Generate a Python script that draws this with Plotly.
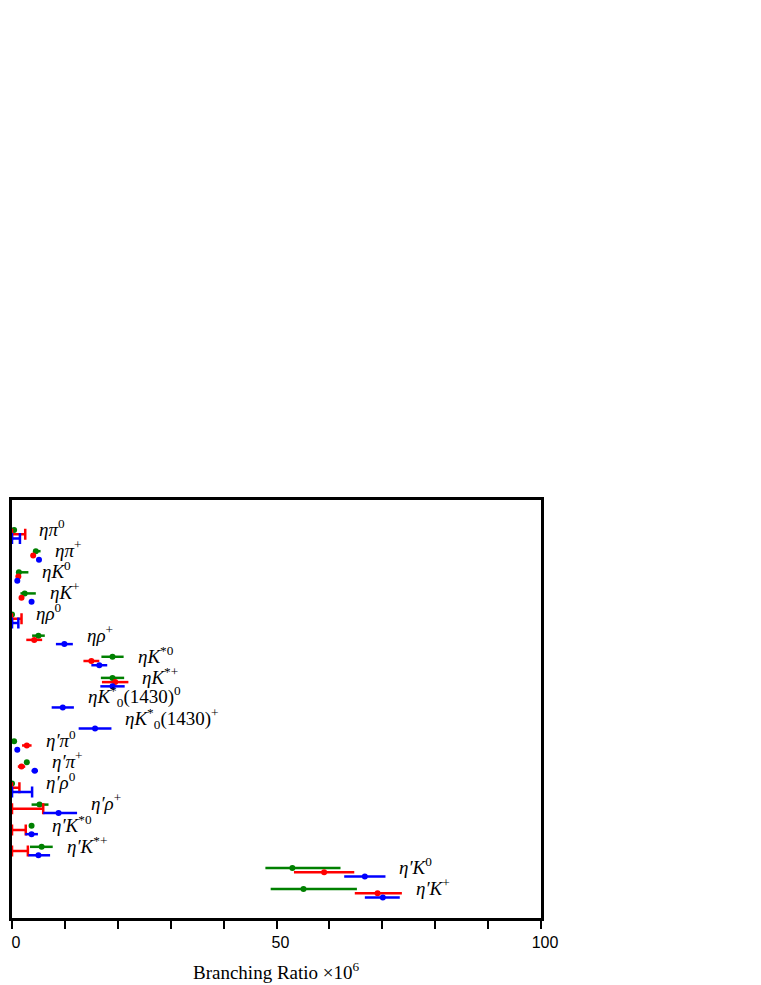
import plotly.graph_objects as go

# Decay channels (rows, top to bottom)
channels = ["eta pi0", "eta pi+", "eta K0", "eta K+", "eta rho0", "eta rho+",
            "eta K*0", "eta K*+", "eta K0*(1430)0", "eta K0*(1430)+",
            "eta' pi0", "eta' pi+", "eta' rho0", "eta' rho+", "eta' K*0",
            "eta' K*+", "eta' K0", "eta' K+"]
labels = ["<i>ηπ</i><sup>0</sup>", "<i>ηπ</i><sup>+</sup>", "<i>ηK</i><sup>0</sup>",
          "<i>ηK</i><sup>+</sup>", "<i>ηρ</i><sup>0</sup>", "<i>ηρ</i><sup>+</sup>",
          "<i>ηK</i><sup>*0</sup>", "<i>ηK</i><sup>*+</sup>",
          "<i>ηK</i><sup>*</sup><sub>0</sub>(1430)<sup>0</sup>",
          "<i>ηK</i><sup>*</sup><sub>0</sub>(1430)<sup>+</sup>",
          "<i>η′π</i><sup>0</sup>", "<i>η′π</i><sup>+</sup>", "<i>η′ρ</i><sup>0</sup>",
          "<i>η′ρ</i><sup>+</sup>", "<i>η′K</i><sup>*0</sup>", "<i>η′K</i><sup>*+</sup>",
          "<i>η′K</i><sup>0</sup>", "<i>η′K</i><sup>+</sup>"]
x_title = "Branching Ratio ×10<sup>6</sup>"
N = None

# Green series: central value, minus error, plus error; upper limits
green_val = [0.4, 4.5, 1.3, 2.4, 0.0, 5.0, 19.0, 19.0, N, N, 0.4, 2.8, 0.0, 5.2, 3.7, 5.6, 53.0, 55.1]
green_lo  = [0.1, 0.4, 0.4, 0.8, 0.0, 1.2, 2.1, 2.2, N, N, 0.1, 0.3, 0.0, 1.5, 0.2, 2.2, 5.1, 6.2]
green_hi  = [0.1, 0.9, 1.8, 2.1, 0.0, 1.2, 2.1, 2.2, N, N, 0.1, 0.3, 0.0, 1.7, 0.2, 2.1, 9.1, 10.1]
green_lim = [N] * 18

# Red series
red_val = [N, 4.0, 1.2, 1.8, N, 4.2, 15.0, 19.5, N, N, 2.8, 1.8, N, N, N, N, 59.0, 69.1]
red_lo  = [N, 0.3, 0.3, 0.3, N, 1.5, 1.5, 2.5, N, N, 0.9, 0.7, N, N, N, N, 5.7, 4.3]
red_hi  = [N, 0.3, 0.3, 0.3, N, 1.5, 1.5, 2.5, N, N, 0.9, 0.7, N, N, N, N, 5.7, 4.6]
red_lim = [2.5, N, N, N, 1.8, N, N, N, N, N, N, N, 1.4, 5.9, 2.6, 3.0, N, N]

# Blue series
blue_val = [N, 5.1, 1.0, 3.7, N, 9.9, 16.5, 19.0, 9.6, 15.7, 1.0, 4.3, N, 8.8, 3.7, 5.0, 66.7, 70.1]
blue_lo  = [N, 0.4, 0.2, 0.3, N, 1.6, 1.5, 2.3, 2.1, 3.1, 0.2, 0.6, N, 2.9, 1.2, 1.9, 3.9, 3.4]
blue_hi  = [N, 0.4, 0.2, 0.3, N, 1.6, 1.5, 2.3, 2.1, 3.1, 0.2, 0.6, N, 3.5, 1.2, 2.2, 3.9, 3.2]
blue_lim = [1.5, N, N, N, 1.2, N, N, N, N, N, N, N, 3.8, N, N, N, N, N]

tick_vals = [0, 10, 20, 30, 40, 50, 60, 70, 80, 90, 100]
tick_text = ["0", "", "", "", "", "50", "", "", "", "", "100"]

rows = list(range(1, len(channels) + 1))
series = [
    ("#008000", -0.2, green_val, green_lo, green_hi, green_lim),
    ("#ff0000", 0.0, red_val, red_lo, red_hi, red_lim),
    ("#0000ff", 0.2, blue_val, blue_lo, blue_hi, blue_lim),
]

fig = go.Figure()
for color, off, val, lo, hi, lim in series:
    idx = [i for i in range(len(rows)) if val[i] is not None]
    if idx:
        fig.add_trace(go.Scatter(
            x=[val[i] for i in idx], y=[rows[i] + off for i in idx],
            mode="markers", marker=dict(color=color, size=6),
            error_x=dict(type="data", symmetric=False,
                         array=[hi[i] for i in idx], arrayminus=[lo[i] for i in idx],
                         color=color, thickness=2.5, width=0),
            cliponaxis=False, showlegend=False, hoverinfo="skip"))
    lidx = [i for i in range(len(rows)) if lim[i] is not None]
    if lidx:
        fig.add_trace(go.Scatter(
            x=[lim[i] for i in lidx], y=[rows[i] + off for i in lidx],
            mode="markers", marker=dict(color=color, size=1, opacity=0),
            error_x=dict(type="data", symmetric=False,
                         array=[0] * len(lidx), arrayminus=[lim[i] for i in lidx],
                         color=color, thickness=2.5, width=5.5),
            showlegend=False, hoverinfo="skip"))

# Labels to the right of the rightmost extent in each row
for i, lab in enumerate(labels):
    ext = []
    for color, off, val, lo, hi, lim in series:
        if val[i] is not None:
            ext.append(val[i] + hi[i])
        if lim[i] is not None:
            ext.append(lim[i])
    fig.add_annotation(x=max(ext), y=rows[i] - 0.3, text=lab, showarrow=False,
                       xanchor="left", yanchor="middle", xshift=12,
                       font=dict(family="Liberation Serif", size=19, color="black"))

# x-axis title
fig.add_annotation(x=0.5, y=-0.127, xref="paper", yref="paper", text=x_title,
                   showarrow=False, xanchor="center", yanchor="middle",
                   font=dict(family="Liberation Serif", size=19, color="black"))

fig.update_layout(
    width=745, height=977,
    margin=dict(l=4, r=212, t=492, b=67),
    paper_bgcolor="white", plot_bgcolor="white",
    xaxis=dict(range=[0, 100], tickvals=tick_vals, ticktext=tick_text,
               ticks="outside", ticklen=8, tickwidth=2, tickcolor="black",
               showline=True, linewidth=2.5, linecolor="black", mirror=True,
               showgrid=False, zeroline=False, ticklabelshift=4, automargin=False,
               tickfont=dict(family="Liberation Sans", size=16, color="black")),
    yaxis=dict(range=[19.17, -0.624], showticklabels=False, ticks="",
               showline=True, linewidth=2.5, linecolor="black", mirror=True,
               showgrid=False, zeroline=False, automargin=False),
)

fig.write_html("out.html")
